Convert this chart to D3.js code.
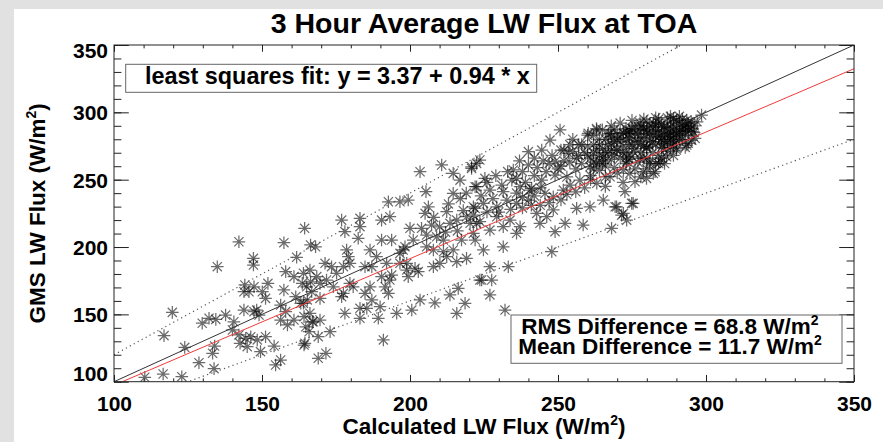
<!DOCTYPE html>
<html>
<head>
<meta charset="utf-8">
<script src="https://cdn.jsdelivr.net/npm/d3@7"></script>
<style>
  html, body { margin: 0; padding: 0; background: #e1e1e1; }
  svg { display: block; }
  text { font-family: "Liberation Sans", Arial, Helvetica, sans-serif; font-weight: bold; fill: #000; }
</style>
</head>
<body>
<svg id="chart" width="883" height="442"></svg>
<script>
// Axis ticks (W/m^2)
const xTicks = [100, 150, 200, 250, 300, 350];
const yTicks = [100, 150, 200, 250, 300, 350];
const xMinorStep = 10;
const yMinorStep = 10;

// Least squares fit and comparison statistics
const fitIntercept = 3.37;
const fitSlope = 0.94;
const rmsDifference = 68.8;
const meanDifference = 11.7;
// +/- 20% envelope around the 1:1 line
const bandFactors = [0.8, 1.2];

// [calculated LW flux, GMS LW flux] pairs, W/m^2
const fluxPairs = [
  [110.4,103.3],[116.6,105.7],[122.9,103.7],[116.9,134.2],[119.7,151.5],[123.9,125.5],[128.7,114.1],[133.8,109.7],
  [133.3,121.1],[134.0,126.5],[134.9,185.4],[129.8,143.4],[132.1,147.1],[134.4,146.3],[137.7,149.5],[142.2,203.9],
  [147.1,191.6],[147.1,186.6],[157.4,203.2],[164.4,213.9],[161.7,192.4],[144.2,171.8],[145.6,166.8],[147.3,170.5],
  [152.0,173.0],[151.2,161.9],[150.1,166.8],[157.4,168.1],[158.0,181.7],[160.8,178.0],[163.6,173.0],[166.4,174.2],
  [143.9,153.2],[147.3,152.0],[149.0,149.5],[140.5,144.5],[140.0,138.4],[142.2,134.7],[144.5,132.2],[146.2,133.4],
  [148.4,131.0],[145.0,126.0],[149.5,122.3],[151.2,133.4],[154.1,126.5],[154.6,112.4],[156.3,116.1],[156.3,145.8],
  [158.6,142.1],[160.8,145.8],[163.1,158.2],[164.2,148.3],[164.8,140.8],[165.9,137.1],[164.2,127.2],[161.4,163.1],
  [165.3,160.7],[167.0,144.5],[166.4,201.5],[143.9,166.8],[156.3,156.9],[158.0,152.0],[148.2,153.2],[142.6,128.5],
  [168.1,200.2],[176.9,220.0],[183.1,221.3],[178.0,211.4],[183.1,215.1],[182.5,206.5],[178.6,197.8],[179.2,192.8],
  [179.7,187.9],[177.5,185.4],[175.2,180.5],[173.5,185.4],[171.3,187.9],[168.5,178.0],[166.2,182.9],[165.1,170.5],
  [166.8,166.8],[169.6,161.9],[164.0,158.2],[166.2,150.8],[167.3,144.5],[169.6,145.8],[173.0,137.1],[169.0,133.4],
  [164.5,128.5],[169.0,117.4],[171.6,121.1],[191.0,131.0],[178.0,150.8],[183.1,154.5],[183.1,147.1],[189.3,147.1],
  [195.5,150.8],[200.6,153.2],[203.4,160.7],[208.4,158.6],[213.5,164.4],[216.3,169.3],[218.6,158.2],[215.8,150.8],
  [223.6,175.5],[177.5,165.6],[184.8,165.6],[187.1,160.7],[185.4,154.5],[189.9,155.7],[192.7,165.6],[191.6,170.5],
  [193.2,175.5],[186.5,170.5],[184.8,185.4],[187.1,185.4],[190.4,178.0],[193.8,179.2],[186.5,197.8],[190.4,205.2],
  [193.8,205.2],[190.4,220.0],[193.2,222.5],[192.7,233.6],[196.6,233.6],[199.4,234.9],[200.0,213.9],[198.3,200.2],
  [196.6,195.3],[196.6,187.9],[198.9,187.9],[198.9,182.9],[201.7,184.2],[202.8,181.7],[201.1,205.2],[203.4,255.9],
  [210.7,260.9],[205.4,241.1],[206.2,229.9],[205.1,225.0],[203.9,213.9],[207.3,216.3],[205.6,208.9],[209.0,207.6],
  [212.4,226.2],[214.6,239.8],[214.6,254.7],[216.9,249.7],[220.8,258.4],[222.5,244.8],[221.4,229.9],[219.1,222.5],
  [215.8,220.0],[213.5,217.6],[211.3,205.2],[207.9,197.8],[211.3,196.5],[214.6,197.8],[217.4,205.2],[220.3,217.6],
  [222.5,217.6],[219.1,191.6],[215.8,189.1],[212.4,192.8],[210.1,187.9],[207.9,185.4],[205.6,200.2],[197.7,197.8],
  [199.4,178.0],[192.1,187.9],[188.7,192.8],[180.8,170.5],[174.1,170.5],[171.8,175.5],[169.6,173.0],[164.0,180.5],
  [176.9,163.1],[179.7,173.0],
  [222.5,262.1],[223.6,264.6],[220.8,259.6],[250.7,286.9],[240.0,270.8],[244.5,272.0],[247.3,279.4],[240.0,260.9],
  [234.9,257.2],[234.4,249.7],[225.3,251.0],[222.0,244.8],[227.0,242.3],[231.5,241.1],[237.2,244.8],[241.1,243.6],
  [244.5,249.7],[249.0,253.4],[249.0,263.3],[253.5,269.6],[256.3,265.8],[260.2,284.4],[263.1,286.9],[267.6,284.4],
  [272.1,284.4],[269.8,272.0],[265.3,267.0],[260.8,259.6],[257.4,249.7],[263.1,247.3],[267.6,252.2],[272.1,257.2],
  [273.2,267.0],[254.1,246.0],[251.8,242.3],[248.4,237.3],[245.6,239.8],[240.5,242.3],[240.0,234.9],[236.0,232.4],
  [232.7,234.9],[229.3,229.9],[224.8,232.4],[222.0,228.7],[221.4,223.7],[223.6,218.8],[227.0,212.6],[221.4,210.2],
  [222.0,205.2],[224.8,197.8],[231.5,200.2],[236.0,210.2],[237.2,215.1],[233.8,220.0],[231.5,215.1],[229.3,222.5],
  [243.9,217.6],[246.2,222.5],[242.8,225.0],[248.4,227.5],[249.0,211.4],[252.4,217.6],[258.5,216.3],[256.3,228.7],
  [260.8,229.9],[265.3,234.9],[269.8,229.9],[272.1,225.0],[268.1,213.9],[247.9,196.5],[227.0,185.4],[233.2,185.4],
  [224.2,175.5],[227.6,175.5],[227.0,164.4],[232.1,153.2],
  [298.5,298.0],[293.5,294.3],[289.0,295.5],[295.7,285.6],[295.2,279.4],[293.5,275.7],[290.1,273.3],[286.7,267.0],
  [284.5,263.3],[282.2,254.7],[276.0,248.5],[272.6,241.1],[275.4,232.4],[273.2,220.0],[282.2,283.1],[278.8,288.1],
  [274.3,285.6],[285.6,289.3],[284.5,278.2],[279.9,273.3],[275.4,270.8],[273.2,263.3],[277.7,265.8],[281.1,263.3],
  [278.8,255.9],[274.3,254.7],[287.8,282.0],[291.2,285.6],[282.2,292.2],[277.7,292.2],[292.3,289.7],[289.0,278.2],
  [285.6,273.3],[274.9,232.4],[269.3,229.9],[271.5,223.7],[279.9,251.0],[282.8,255.9],[296.3,280.7],
  [258,262],[259,270],[260,275],[261,266],[262,258],[263,272],[264,280],[265,262],[266,270],[267,276],
  [268,265],[268,282],[269,259],[270,272],[271,278],[271,266],[272,285],[273,270],[273,262],[274,276],
  [274,281],[275,267],[275,288],[276,273],[276,279],[277,263],[277,284],[278,270],[278,276],[279,281],
  [279,287],[280,266],[280,274],[281,279],[281,284],[282,270],[282,289],[283,276],[283,282],[284,268],
  [284,286],[285,274],[285,280],[285,291],[286,277],[286,284],[287,271],[287,288],[288,280],[288,285],
  [288,293],[289,276],[289,282],[290,288],[290,279],[291,284],[291,292],[292,280],[292,287],[293,283],
  [293,290],[294,286],[294,292],[295,288],[296,290],[297,293],[286,262],[289,268],[283,262],[280,258],
  [278,252],[270,255],[266,252],[262,283],[265,287],[268,290],[271,292],[275,294],[279,295],[283,296],
  [287,296],[291,297],[256,258],[257,268],[254,263],[252,272],[251,260],[253,252],[261,250],[266,245],
  [272,248],[276,258],[281,262],[285,266],[290,272],[294,277],[293,274],[288,274],[284,262],[279,266],
  [274,265],[269,287],[267,284],[264,276],[260,283],[263,288],[257,276],[255,280],
  [260,268],[262,276],[264,268],[266,280],[268,272],[269,278],[270,284],[272,275],[273,280],[274,287],
  [276,284],[277,278],[278,290],[279,275],[280,284],[281,290],[282,278],[283,286],[284,292],[285,284],
  [286,289],[287,278],[288,289],[289,286],[290,294],[291,280],[292,291],[293,286],[294,289],[295,293],
  [296,285],[287,284],[284,282],[281,275],[278,281],[275,276],[272,270],[269,268],[266,264],[263,262],
  [286,280],[289,290],[283,290],[280,287],[277,287],[274,284],[271,281],[268,277],[265,273],[262,270],
  [290,284],[292,295],[288,297],[284,295],[280,293],[276,290],[273,288],[270,280],[267,270],[264,264],
  [226,248],[229,253],[231,246],[233,256],[236,251],[238,256],[239,248],[242,253],[243,259],[246,256],
  [247,262],[250,258],[252,264],[255,271],[258,276],[254,276],[251,272],[248,268],[245,264],[242,266],
  [237,264],[236,240],[238,237],[242,238],[244,231],[247,233],[251,235],[253,239],[256,241],[259,244],
  [261,253],[264,257],[266,260],[262,263],[228,236],[226,226],[230,226],[234,228],[238,229],[241,231],
  [244,244],[210,215],[212,211],[216,212],[218,227],[224,238],[208,222],[213,232],[217,236],[219,240]
];

const titleText = "3 Hour Average LW Flux at TOA";
const xLabel = "Calculated LW Flux (W/m";
const yLabel = "GMS LW Flux (W/m";

const svg = d3.select("#chart");
const W = 883, H = 442;

// page backdrop and white drawing panel
svg.append("rect").attr("width", W).attr("height", H).attr("fill", "#e1e1e1");
svg.append("rect").attr("x", 14).attr("y", 9).attr("width", W - 14).attr("height", H - 9).attr("fill", "#fff");

const plot = { left: 114, right: 854, top: 45, bottom: 381.7 };
const pw = plot.right - plot.left, ph = plot.bottom - plot.top;

const x = d3.scaleLinear().domain([xTicks[0], xTicks[xTicks.length - 1]]).range([plot.left, plot.right]);
const y = d3.scaleLinear().domain([yTicks[0], yTicks[yTicks.length - 1]]).range([plot.bottom, plot.top]);

svg.append("defs").append("clipPath").attr("id", "plotClip")
  .append("rect").attr("x", plot.left).attr("y", plot.top).attr("width", pw).attr("height", ph);

const inner = svg.append("g").attr("clip-path", "url(#plotClip)");

// asterisk markers (plus + cross)
const armP = 6.3, armX = 4.6;
const star = `M${-armP},0H${armP}M0,${-armP}V${armP}M${-armX},${-armX}L${armX},${armX}M${-armX},${armX}L${armX},${-armX}`;
inner.append("g").selectAll("path").data(fluxPairs).join("path")
  .attr("d", star)
  .attr("transform", d => `translate(${x(d[0])},${y(d[1])})`)
  .attr("fill", "none")
  .attr("stroke", "#000")
  .attr("stroke-opacity", 0.58)
  .attr("stroke-width", 1.25);

const [x0, x1] = x.domain();
const line = d3.line().x(d => x(d[0])).y(d => y(d[1]));

// dotted +/-20% envelope
bandFactors.forEach(f => {
  inner.append("path").attr("d", line([[x0, f * x0], [x1, f * x1]]))
    .attr("fill", "none").attr("stroke", "#555").attr("stroke-width", 1.2)
    .attr("stroke-dasharray", "1.2,3.3");
});
// 1:1 line
inner.append("path").attr("d", line([[x0, x0], [x1, x1]]))
  .attr("fill", "none").attr("stroke", "#333").attr("stroke-width", 1);
// least squares fit
inner.append("path").attr("d", line([[x0, fitIntercept + fitSlope * x0], [x1, fitIntercept + fitSlope * x1]]))
  .attr("fill", "none").attr("stroke", "#f03a3a").attr("stroke-width", 1);

// axes: ticks point inward on all four sides
const majorY = 0.02 * pw, majorX = 0.02 * ph;
const minorXVals = d3.range(x0, x1 + 0.001, xMinorStep);
const minorYVals = d3.range(yTicks[0], yTicks[yTicks.length - 1] + 0.001, yMinorStep);

function styleAxis(g) {
  g.select(".domain").remove();
  g.selectAll(".tick line").attr("stroke", "#222").attr("stroke-width", 1);
  g.selectAll("text").attr("font-size", 21).attr("font-family", null);
}

const gBottom = svg.append("g").attr("transform", `translate(0,${plot.bottom})`)
  .call(d3.axisBottom(x).tickValues(xTicks).tickSize(-majorX).tickPadding(15).tickFormat(d3.format("d")));
styleAxis(gBottom);
gBottom.selectAll("text").attr("dy", null).attr("y", 29.5);
svg.append("g").attr("transform", `translate(0,${plot.bottom})`)
  .call(d3.axisBottom(x).tickValues(minorXVals).tickSize(-majorX / 2).tickFormat(""))
  .call(styleAxis);
svg.append("g").attr("transform", `translate(0,${plot.top})`)
  .call(d3.axisTop(x).tickValues(xTicks).tickSize(-majorX).tickFormat(""))
  .call(styleAxis);
svg.append("g").attr("transform", `translate(0,${plot.top})`)
  .call(d3.axisTop(x).tickValues(minorXVals).tickSize(-majorX / 2).tickFormat(""))
  .call(styleAxis);

const gLeft = svg.append("g").attr("transform", `translate(${plot.left},0)`)
  .call(d3.axisLeft(y).tickValues(yTicks).tickSize(-majorY).tickPadding(6).tickFormat(d3.format("d")));
styleAxis(gLeft);
// end labels are nudged inside the axis span
gLeft.selectAll("text").attr("dy", null)
  .attr("y", d => d === yTicks[yTicks.length - 1] ? 12.3 : (d === yTicks[0] ? -1.7 : 7.6));
svg.append("g").attr("transform", `translate(${plot.left},0)`)
  .call(d3.axisLeft(y).tickValues(minorYVals).tickSize(-majorY / 2).tickFormat(""))
  .call(styleAxis);
svg.append("g").attr("transform", `translate(${plot.right},0)`)
  .call(d3.axisRight(y).tickValues(yTicks).tickSize(-majorY).tickFormat(""))
  .call(styleAxis);
svg.append("g").attr("transform", `translate(${plot.right},0)`)
  .call(d3.axisRight(y).tickValues(minorYVals).tickSize(-majorY / 2).tickFormat(""))
  .call(styleAxis);

// plot frame
svg.append("rect").attr("x", plot.left).attr("y", plot.top).attr("width", pw).attr("height", ph)
  .attr("fill", "none").attr("stroke", "#222").attr("stroke-width", 1);

// title
svg.append("text").attr("x", (plot.left + plot.right) / 2).attr("y", 33)
  .attr("text-anchor", "middle").attr("font-size", 28.5).text(titleText);

// axis titles with superscript 2
function labelWithUnit(t, base, size) {
  t.append("tspan").text(base);
  t.append("tspan").attr("font-size", size * 0.62).attr("dy", -size * 0.42).text("2");
  t.append("tspan").attr("dy", size * 0.42).text(")");
}
const xl = svg.append("text").attr("x", (plot.left + plot.right) / 2).attr("y", 434)
  .attr("text-anchor", "middle").attr("font-size", 22.5);
labelWithUnit(xl, xLabel, 22.5);
const yl = svg.append("text").attr("transform", `translate(45,${(plot.top + plot.bottom) / 2}) rotate(-90)`)
  .attr("text-anchor", "middle").attr("font-size", 22.5);
labelWithUnit(yl, yLabel, 22.5);

// fit legend box
svg.append("rect").attr("x", 125.7).attr("y", 64.3).attr("width", 411).attr("height", 28)
  .attr("fill", "#fff").attr("stroke", "#666").attr("stroke-width", 1);
svg.append("text").attr("x", 145).attr("y", 84).attr("font-size", 23.4)
  .text(`least squares fit: y = ${fitIntercept.toFixed(2)} + ${fitSlope.toFixed(2)} * x`);

// statistics box
svg.append("rect").attr("x", 511).attr("y", 315).attr("width", 331).attr("height", 48.3)
  .attr("fill", "#fff").attr("stroke", "#666").attr("stroke-width", 1);
const statLines = [
  [`RMS Difference = ${rmsDifference.toFixed(1)} W/m`, 333.5],
  [`Mean Difference = ${meanDifference.toFixed(1)} W/m`, 353.5]
];
statLines.forEach(([s, yy]) => {
  const t = svg.append("text").attr("x", 670).attr("y", yy).attr("text-anchor", "middle").attr("font-size", 22.5);
  t.append("tspan").text(s);
  t.append("tspan").attr("font-size", 14).attr("dy", -9).text("2");
});
</script>
</body>
</html>
